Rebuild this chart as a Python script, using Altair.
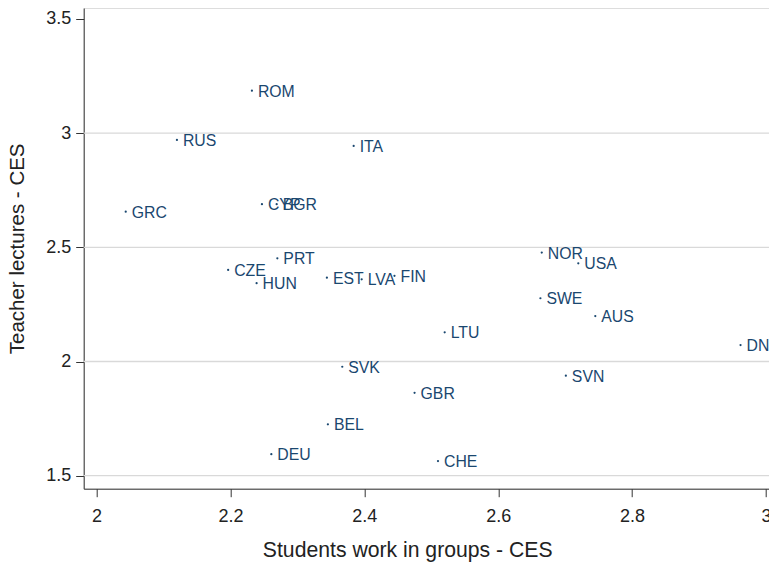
import altair as alt
import pandas as pd

countries = ["ROM", "RUS", "ITA", "GRC", "CYP", "BGR", "PRT", "CZE", "HUN", "EST",
             "LVA", "FIN", "LTU", "SVK", "GBR", "BEL", "DEU", "CHE", "NOR", "USA",
             "SWE", "AUS", "DNK", "SVN"]
group_work = [2.232, 2.120, 2.384, 2.0435, 2.247, 2.269, 2.270, 2.1965, 2.239, 2.344,
              2.396, 2.445, 2.520, 2.367, 2.475, 2.3455, 2.261, 2.510, 2.665, 2.7196,
              2.663, 2.745, 2.962, 2.701]
lectures = [3.186, 2.970, 2.944, 2.656, 2.689, 2.689, 2.452, 2.401, 2.343, 2.367,
            2.360, 2.375, 2.128, 1.977, 1.863, 1.725, 1.594, 1.564, 2.477, 2.430,
            2.277, 2.199, 2.072, 1.938]

x_ticks = [2, 2.2, 2.4, 2.6, 2.8, 3]
y_ticks = [1.5, 2, 2.5, 3, 3.5]
grid_y = [1.5, 2, 2.5, 3]

df = pd.DataFrame({"country": countries, "x": group_work, "y": lectures})
grid_df = pd.DataFrame({"g": grid_y})

navy = "#1a476f"
font = "Liberation Sans"

xscale = alt.Scale(domain=[1.9807, 3.0045], nice=False, zero=False)
yscale = alt.Scale(domain=[1.443, 3.548], nice=False, zero=False)

xaxis = alt.Axis(values=x_ticks, format="~g", title="Students work in groups - CES", grid=False,
                 domainColor="#333333", tickColor="#333333", tickSize=8,
                 labelFontSize=18, labelColor="#222222", labelFont=font,
                 labelPadding=11, titleFontSize=21.2, titleFont=font,
                 titleFontWeight="normal", titleColor="#222222", titlePadding=14,
                 titleX=323.5, titleAlign="center",
                 labelFlush=False, labelOverlap=False)
yaxis = alt.Axis(values=y_ticks, format="~g", title="Teacher lectures - CES", grid=False,
                 domainColor="#333333", tickColor="#333333", tickSize=8,
                 labelFontSize=18, labelColor="#222222", labelFont=font,
                 labelPadding=5, titleFontSize=20.5, titleFont=font,
                 titleFontWeight="normal", titleColor="#222222", titlePadding=18,
                 labelFlush=False, labelOverlap=False)

grid = alt.Chart(grid_df).mark_rule(color="#d9d9d9", strokeWidth=1.3).encode(
    y=alt.Y("g:Q", scale=yscale, axis=yaxis)
)

points = alt.Chart(df).mark_circle(size=5, color=navy, opacity=1).encode(
    x=alt.X("x:Q", scale=xscale, axis=xaxis),
    y=alt.Y("y:Q", scale=yscale, axis=yaxis),
)

labels = alt.Chart(df).mark_text(align="left", baseline="middle", dx=6, dy=1,
                                 fontSize=15.8, font=font, color=navy).encode(
    x=alt.X("x:Q", scale=xscale),
    y=alt.Y("y:Q", scale=yscale),
    text="country:N",
)

chart = alt.layer(grid, points, labels).properties(
    width=685.3, height=480.7,
    autosize=alt.AutoSizeParams(type="none"),
    padding={"left": 75.7, "top": 0, "right": 0, "bottom": 73.3},
).configure_view(stroke=None).configure(background="white")

chart.save("out.html", embed_options={"renderer": "svg", "actions": False})
